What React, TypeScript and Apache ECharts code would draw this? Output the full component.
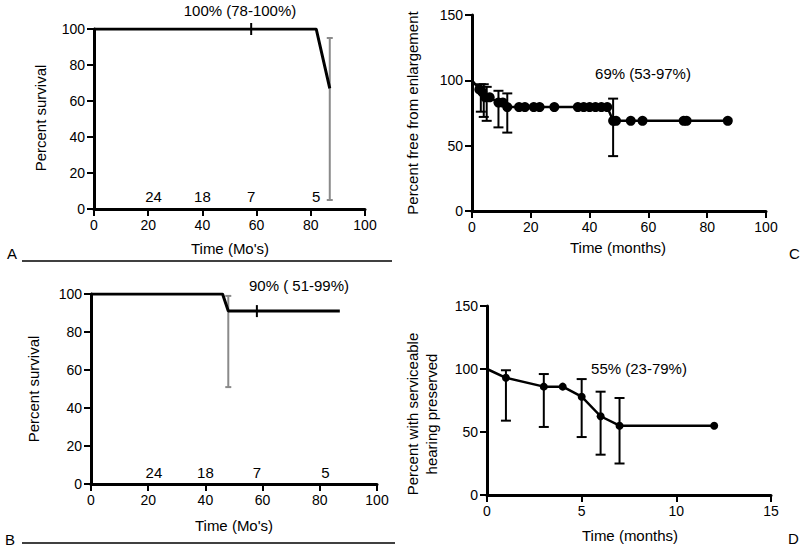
import React, { useEffect, useRef } from "react";
import * as echarts from "echarts";

const FONT = "'Liberation Sans', Arial, Helvetica, sans-serif";

// Panel A
const curveA: number[][] = [[0, 100], [82, 100], [87, 67]];
const censorA: number[][] = [[58, 100]];
const errA: number[][] = [[87, 5, 95]];
const atRiskTimes = [22, 40, 58, 82];
const atRiskA = [24, 18, 7, 5];
const atRiskB = [24, 18, 7, 5];

// Panel B
const curveB: number[][] = [[0, 100], [46, 100], [48, 91], [87, 91]];
const censorB: number[][] = [[58, 91]];
const errB: number[][] = [[48, 51, 99]];

// Panel C
const timesC = [0, 2.5, 3.5, 4.5, 6, 9, 10.5, 12, 16, 18, 21, 23, 28, 36, 38, 40, 42, 44, 46, 48, 49, 54, 58, 72, 73, 87];
const valuesC = [100, 93, 91, 87, 87, 83, 83, 79.5, 79.5, 79.5, 79.5, 79.5, 79.5, 79.5, 79.5, 79.5, 79.5, 79.5, 79.5, 69, 69, 69, 69, 69, 69, 69];
const errC: number[][] = [[3, 76, 97], [4, 72, 97], [5, 69, 95], [9, 64, 92], [12, 60, 90], [48, 42, 86]];

// Panel D
const timesD = [0, 1, 3, 4, 5, 6, 7, 12];
const valuesD = [100, 93, 86, 86, 78, 62.5, 55, 55];
const errD: number[][] = [[1, 59, 99], [3, 54, 96], [5, 46, 92], [6, 32, 82], [7, 25, 77]];

const toPairs = (xs: number[], ys: number[]) => xs.map((x, i) => [x, ys[i]]);

function errorBars(idx: number, data: number[][], color: string, width: number, cap: number) {
  return {
    type: "custom",
    xAxisIndex: idx,
    yAxisIndex: idx,
    data,
    encode: { x: 0, y: [1, 2] },
    z: 3,
    renderItem: (params: any, api: any) => {
      const x = api.value(0);
      const lo = api.coord([x, api.value(1)]);
      const hi = api.coord([x, api.value(2)]);
      const style = { stroke: color, lineWidth: width, fill: "none" };
      return {
        type: "group",
        children: [
          { type: "line", shape: { x1: hi[0], y1: hi[1], x2: lo[0], y2: lo[1] }, style },
          { type: "line", shape: { x1: hi[0] - cap, y1: hi[1], x2: hi[0] + cap, y2: hi[1] }, style },
          { type: "line", shape: { x1: lo[0] - cap, y1: lo[1], x2: lo[0] + cap, y2: lo[1] }, style },
        ],
      };
    },
  };
}

function axis(gridIndex: number, max: number, interval: number) {
  return {
    type: "value",
    gridIndex,
    min: 0,
    max,
    interval,
    axisLine: { show: true, onZero: false, lineStyle: { color: "#000", width: 3 } },
    axisTick: { show: true, length: 7, lineStyle: { color: "#000", width: 2 } },
    axisLabel: { color: "#000", fontSize: 14, fontFamily: FONT, margin: 9 },
    splitLine: { show: false },
  };
}

function atRiskSeries(idx: number, y: number, counts: number[]) {
  return {
    type: "scatter",
    xAxisIndex: idx,
    yAxisIndex: idx,
    symbolSize: 1,
    itemStyle: { opacity: 0 },
    data: atRiskTimes.map((t, i) => [t, y, counts[i]]),
    label: {
      show: true,
      position: "inside",
      formatter: (p: any) => String(p.value[2]),
      color: "#000",
      opacity: 1,
      fontSize: 15,
      fontFamily: FONT,
    },
    emphasis: { disabled: true },
    z: 4,
  };
}

export default function App() {
  const ref = useRef<HTMLDivElement>(null);
  useEffect(() => {
    if (!ref.current) return;
    const chart = echarts.init(ref.current, undefined, { renderer: "svg" });
    const lineBase = { type: "line", showSymbol: false, symbol: "none", z: 5 };
    const txt = (text: string, x: number, y: number, align = "center", rot = 0) => ({
      type: "text",
      x,
      y,
      rotation: rot,
      style: { text, fontSize: 15, fontFamily: FONT, fontWeight: "normal", fill: "#000", align, verticalAlign: "middle", lineHeight: 19 },
    });
    const R = Math.PI / 2;
    chart.setOption({
      animation: false,
      backgroundColor: "#fff",
      grid: [
        { left: 94, top: 29, width: 271, height: 180 },
        { left: 91, top: 294, width: 286, height: 190 },
        { left: 472, top: 15, width: 294, height: 196 },
        { left: 487, top: 306, width: 284, height: 189 },
      ],
      xAxis: [axis(0, 100, 20), axis(1, 100, 20), axis(2, 100, 20), axis(3, 15, 5)],
      yAxis: [axis(0, 100, 20), axis(1, 100, 20), axis(2, 150, 50), axis(3, 150, 50)],
      series: [
        // A
        { ...lineBase, xAxisIndex: 0, yAxisIndex: 0, data: curveA, lineStyle: { color: "#000", width: 3 } },
        {
          type: "scatter", xAxisIndex: 0, yAxisIndex: 0, data: censorA,
          symbol: "rect", symbolSize: [2, 12], itemStyle: { color: "#000", opacity: 1 }, z: 6,
        },
        errorBars(0, errA, "#8a8a8a", 2, 3),
        atRiskSeries(0, 7, atRiskA),
        // B
        { ...lineBase, xAxisIndex: 1, yAxisIndex: 1, data: curveB, lineStyle: { color: "#000", width: 3 } },
        {
          type: "scatter", xAxisIndex: 1, yAxisIndex: 1, data: censorB,
          symbol: "rect", symbolSize: [2, 12], itemStyle: { color: "#000", opacity: 1 }, z: 6,
        },
        errorBars(1, errB, "#8a8a8a", 2, 3),
        atRiskSeries(1, 6, atRiskB),
        // C
        {
          type: "line", xAxisIndex: 2, yAxisIndex: 2, data: toPairs(timesC, valuesC),
          symbol: "circle",
          symbolSize: (v: number[]) => (v[0] === 0 ? 0 : 10),
          showSymbol: true,
          lineStyle: { color: "#000", width: 2.5 }, itemStyle: { color: "#000" }, z: 5,
        },
        errorBars(2, errC, "#000", 2, 5),
        // D
        {
          type: "line", xAxisIndex: 3, yAxisIndex: 3, data: toPairs(timesD, valuesD),
          symbol: "circle",
          symbolSize: (v: number[]) => (v[0] === 0 ? 0 : 8),
          showSymbol: true,
          lineStyle: { color: "#000", width: 2.5 }, itemStyle: { color: "#000" }, z: 5,
        },
        errorBars(3, errD, "#000", 2, 5),
      ],
      graphic: [
        txt("100% (78-100%)", 240, 10),
        txt("90% ( 51-99%)", 299, 285),
        txt("69% (53-97%)", 643, 73),
        txt("55% (23-79%)", 639, 368),
        txt("Time (Mo's)", 230, 248),
        txt("Time (Mo's)", 234, 525),
        txt("Time (months)", 618, 247),
        txt("Time (months)", 630, 535),
        txt("Percent survival", 40, 118, "center", R),
        txt("Percent survival", 33, 389, "center", R),
        txt("Percent free from enlargement", 412, 113, "center", R),
        txt("Percent with serviceable\nhearing preserved", 422, 414, "center", R),
        txt("A", 7, 253, "left"),
        txt("B", 5, 539, "left"),
        txt("C", 789, 253, "left"),
        txt("D", 788, 538, "left"),
        { type: "line", shape: { x1: 22, y1: 261, x2: 392, y2: 261 }, style: { stroke: "#000", lineWidth: 1.5 } },
        { type: "line", shape: { x1: 22, y1: 543, x2: 395, y2: 543 }, style: { stroke: "#000", lineWidth: 1.5 } },
      ],
    });
    return () => chart.dispose();
  }, []);
  return <div ref={ref} style={{ width: 800, height: 548, position: "absolute", left: 0, top: 0 }} />;
}
